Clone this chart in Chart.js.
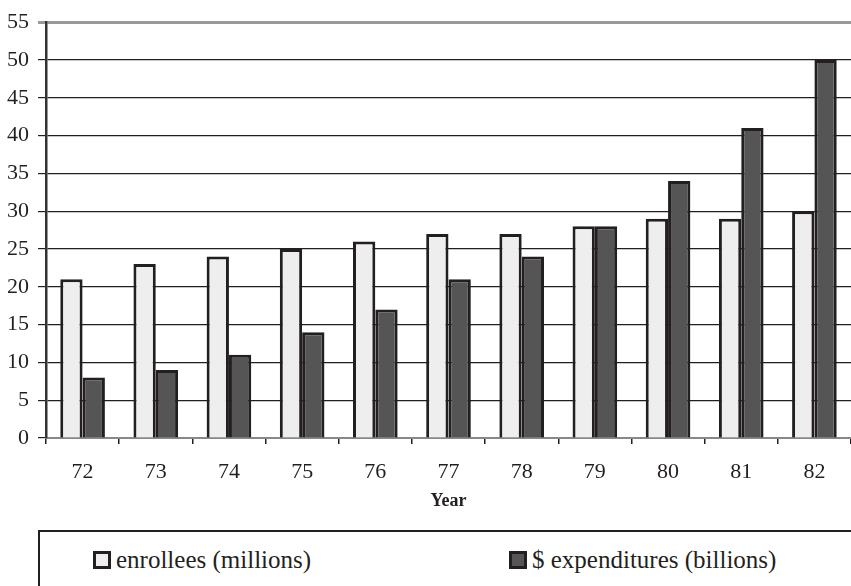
<!DOCTYPE html>
<html>
<head>
<meta charset="utf-8">
<script src="https://cdn.jsdelivr.net/npm/chart.js@4.4.0/dist/chart.umd.min.js"></script>
<style>
  body { margin: 0; background: #fff; width: 851px; height: 586px; overflow: hidden; position: relative; font-family: 'Liberation Serif', 'Times New Roman', serif; }
  #wrap { position: absolute; left: 0; top: 0; width: 851px; height: 516px; }
  #legend { position: absolute; left: 38px; top: 530px; width: 830px; height: 70px; border: 2px solid #231f20; box-sizing: border-box; }
  .item { position: absolute; top: 14px; height: 28px; line-height: 28px; font-size: 25px; color: #231f20; display: flex; align-items: center; white-space: nowrap; }
  .swatch { width: 12px; height: 12px; border: 3px solid #231f20; margin-right: 5px; }
</style>
</head>
<body>
<div id="wrap"><canvas id="chart"></canvas></div>
<div id="legend"></div>
<script>
// Data
const years = ['72', '73', '74', '75', '76', '77', '78', '79', '80', '81', '82'];
const enrollees = [21, 23, 24, 25, 26, 27, 27, 28, 29, 29, 30];
const expenditures = [8, 9, 11, 14, 17, 21, 24, 28, 34, 41, 50];
const seriesNames = ['enrollees (millions)', '$ expenditures (billions)'];
const seriesColors = ['#eeeeee', '#555555'];

const serif = "'Liberation Serif', 'Times New Roman', serif";

const ctx = document.getElementById('chart').getContext('2d');
const chart = new Chart(ctx, {
  type: 'bar',
  data: {
    labels: years,
    datasets: [
      { label: seriesNames[0], data: enrollees, backgroundColor: seriesColors[0], borderColor: '#231f20', borderWidth: 3 },
      { label: seriesNames[1], data: expenditures, backgroundColor: seriesColors[1], borderColor: '#231f20', borderWidth: 3 },
    ],
  },
  options: {
    responsive: true,
    maintainAspectRatio: false,
    animation: false,
    devicePixelRatio: 1,
    layout: { padding: { top: 12, right: 0, left: 0, bottom: 0 } },
    datasets: { bar: { categoryPercentage: 0.61, barPercentage: 1.0 } },
    plugins: { legend: { display: false }, tooltip: { enabled: false } },
    scales: {
      x: {
        afterFit: s => { s.height = 78; },
        grid: { drawOnChartArea: false, tickLength: 6, color: '#231f20', lineWidth: 1.5 },
        border: { color: '#888', width: 2 },
        ticks: { color: '#231f20', font: { family: serif, size: 22 }, padding: 15 },
        title: { display: true, text: 'Year', color: '#231f20', font: { family: serif, size: 18, weight: 'bold' }, padding: { top: 3, bottom: 4 } },
      },
      y: {
        afterFit: s => { s.width = 46; },
        min: 0,
        max: 55,
        ticks: { stepSize: 5, color: '#231f20', font: { family: serif, size: 22 }, padding: 9 },
        grid: {
          tickLength: 8,
          color: c => (c.tick && c.tick.value === 55 ? '#999999' : '#231f20'),
          lineWidth: c => (c.tick && c.tick.value === 55 ? 3 : 1.2),
        },
        border: { color: '#333', width: 2.5 },
      },
    },
  },
});

// HTML legend inside a box below the chart
const legend = document.getElementById('legend');
const positions = [53, 469];
seriesNames.forEach((name, i) => {
  const div = document.createElement('div');
  div.className = 'item';
  div.style.left = positions[i] + 'px';
  div.innerHTML = `<span class="swatch" style="background:${seriesColors[i]}"></span>${name}`;
  legend.appendChild(div);
});
</script>
</body>
</html>
